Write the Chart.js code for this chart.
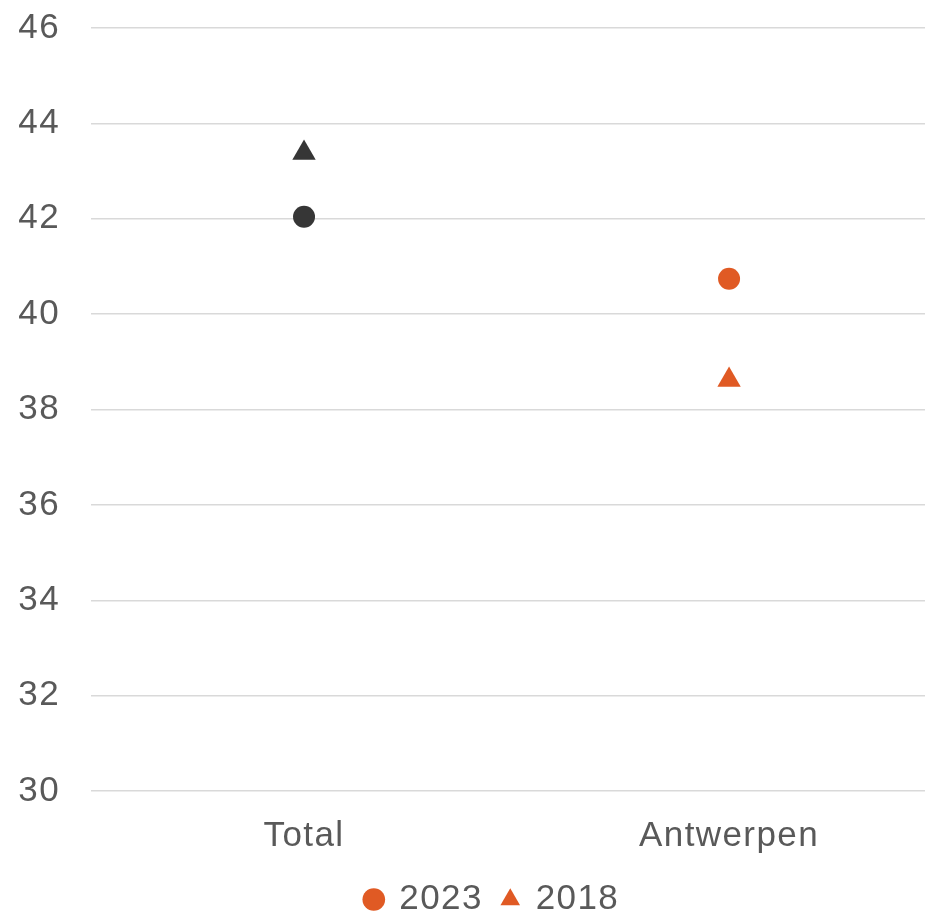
<!DOCTYPE html>
<html>
<head>
<meta charset="utf-8">
<script src="https://cdn.jsdelivr.net/npm/chart.js@4"></script>
<style>
  html, body { margin: 0; padding: 0; background: #fff; overflow: hidden; }
  #wrap { width: 925px; height: 919px; position: relative; }
  canvas { display: block; }
</style>
</head>
<body>
<div id="wrap"><canvas id="dotChart"></canvas></div>
<script>
// data
const categories = ['Total', 'Antwerpen'];
const seriesNames = ['2023', '2018'];
const values2023 = [42.04, 40.74];
const values2018 = [43.38, 38.62];
const yTicks = [30, 32, 34, 36, 38, 40, 42, 44, 46];

const ORANGE = '#E05A24';
const DARK = '#363636';
const TEXT = '#595959';
const FONT = "'Liberation Sans', Arial, sans-serif";

// first category is the overall total, drawn dark
const pointColors = categories.map((c, i) => i === 0 ? DARK : ORANGE);

function toPoints(values) {
    return values.map((v, i) => ({ x: i, y: v }));
}

// the original text is set a little wider; canvas resets state on resize
const wideText = {
    id: 'wideText',
    beforeUpdate(chart) { chart.ctx.letterSpacing = '1.4px'; },
    beforeDraw(chart) { chart.ctx.letterSpacing = '1.4px'; }
};

// nudge the legend a bit right of the canvas centre
const legendShift = {
    id: 'legendShift',
    afterLayout(chart) {
        if (chart.legend) {
            chart.legend.left += 30;
            chart.legend.right += 30;
        }
    }
};

const ctx = document.getElementById('dotChart').getContext('2d');
const dotChart = new Chart(ctx, {
    type: 'scatter',
    data: {
        datasets: [{
            label: seriesNames[0],
            data: toPoints(values2023),
            pointStyle: 'circle',
            pointRadius: 11,
            pointBackgroundColor: pointColors,
            pointBorderWidth: 0,
            pointHoverRadius: 11
        }, {
            label: seriesNames[1],
            data: toPoints(values2018),
            pointStyle: 'triangle',
            pointRadius: 13.5,
            pointBackgroundColor: pointColors,
            pointBorderWidth: 0,
            pointHoverRadius: 13.5
        }]
    },
    plugins: [wideText, legendShift],
    options: {
        responsive: true,
        maintainAspectRatio: false,
        animation: false,
        layout: {
            autoPadding: false,
            padding: { top: 28, left: 0, right: 0, bottom: -8 }
        },
        scales: {
            x: {
                type: 'linear',
                min: -0.5012,
                max: 1.461,
                afterBuildTicks: (scale) => {
                    scale.ticks = categories.map((c, i) => ({ value: i }));
                },
                afterFit: (scale) => { scale.height -= 18.5; },
                ticks: {
                    color: TEXT,
                    font: { family: FONT, size: 35 },
                    padding: 24,
                    callback: (value) => categories[value]
                },
                grid: { display: false, drawTicks: false },
                border: { display: false }
            },
            y: {
                min: yTicks[0],
                max: yTicks[yTicks.length - 1],
                afterFit: (scale) => {
                    scale.width = 91;
                    scale.paddingTop = 0;
                    scale.paddingBottom = 0;
                },
                afterBuildTicks: (scale) => {
                    scale.ticks = yTicks.map(v => ({ value: v }));
                },
                ticks: {
                    color: TEXT,
                    font: { family: FONT, size: 35 },
                    padding: 31
                },
                grid: {
                    color: '#D9D9D9',
                    lineWidth: 1.5,
                    drawTicks: false
                },
                border: { display: false }
            }
        },
        plugins: {
            legend: {
                position: 'bottom',
                labels: {
                    usePointStyle: true,
                    boxWidth: 16,
                    boxHeight: 16,
                    padding: 19.5,
                    color: TEXT,
                    font: { family: FONT, size: 35 },
                    // legend marks are orange, like the city series
                    generateLabels: (chart) => chart.data.datasets.map((ds, i) => ({
                        text: ds.label,
                        fillStyle: ORANGE,
                        strokeStyle: ORANGE,
                        lineWidth: 0,
                        pointStyle: ds.pointStyle,
                        fontColor: TEXT,
                        hidden: false,
                        datasetIndex: i
                    }))
                }
            },
            tooltip: { enabled: false }
        }
    }
});
</script>
</body>
</html>
